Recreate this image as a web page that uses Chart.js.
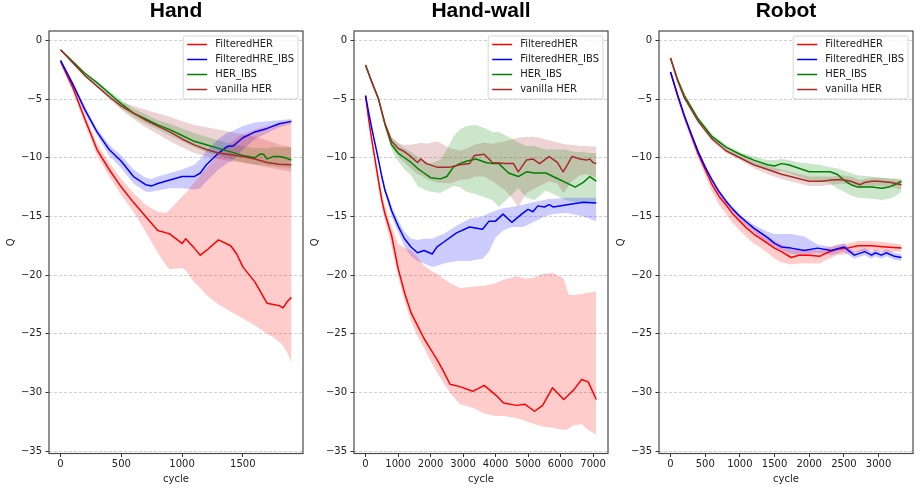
<!DOCTYPE html>
<html>
<head>
<meta charset="utf-8">
<script src="https://cdn.jsdelivr.net/npm/chart.js@4.4.0/dist/chart.umd.min.js"></script>
<style>
  body { margin: 0; background: #fff; width: 920px; height: 494px; position: relative; overflow: hidden; }
  canvas { position: absolute; top: 0; }
</style>
</head>
<body>
<canvas id="hand" width="306" height="494" style="left:0px"></canvas>
<canvas id="wall" width="305" height="494" style="left:306px"></canvas>
<canvas id="robot" width="305" height="494" style="left:611px"></canvas>
<script>
// tick labels
var yTicks = [0, -5, -10, -15, -20, -25, -30, -35];
var handXTicks = [0, 500, 1000, 1500];
var wallXTicks = [0, 1000, 2000, 3000, 4000, 5000, 6000, 7000];
var robotXTicks = [0, 500, 1000, 1500, 2000, 2500, 3000];

var handNames = ["FilteredHER", "FilteredHRE_IBS", "HER_IBS", "vanilla HER"];
var otherNames = ["FilteredHER", "FilteredHER_IBS", "HER_IBS", "vanilla HER"];

// ---- Hand ----
var handRedX = [0,100,200,300,400,500,600,700,800,870,900,1000,1030,1100,1150,1200,1300,1400,1450,1500,1600,1700,1750,1800,1830,1870,1900];
var handRedMean = [-1.8,-4.0,-6.7,-9.3,-11.0,-12.5,-13.8,-15.0,-16.2,-16.4,-16.5,-17.3,-16.9,-17.7,-18.3,-17.9,-17.0,-17.5,-18.2,-19.3,-20.6,-22.4,-22.5,-22.6,-22.8,-22.2,-21.9];
var handRedUp = [-1.6,-3.7,-6.3,-8.8,-10.4,-11.8,-13.0,-14.0,-14.6,-14.7,-14.4,-13.3,-13.0,-12.1,-11.5,-10.9,-9.7,-8.7,-8.3,-8.0,-7.6,-7.3,-7.2,-7.0,-7.0,-6.9,-6.8];
var handRedLo = [-2.0,-4.3,-7.1,-9.8,-11.6,-13.2,-14.6,-16.3,-18.1,-19.2,-19.5,-19.4,-19.6,-20.6,-21.1,-21.7,-22.5,-23.1,-23.4,-23.7,-24.3,-25.0,-25.3,-25.7,-26.0,-26.7,-27.5];

var handBlueX = [0,100,200,300,400,500,600,700,750,800,900,1000,1100,1150,1200,1300,1370,1420,1500,1600,1700,1800,1900];
var handBlueMean = [-1.7,-3.7,-5.9,-7.8,-9.3,-10.3,-11.6,-12.3,-12.4,-12.2,-11.9,-11.6,-11.6,-11.3,-10.6,-9.6,-9.05,-9.0,-8.3,-7.8,-7.5,-7.1,-6.9];
var handBlueUp = [-1.6,-3.5,-5.6,-7.5,-8.9,-9.8,-11.0,-11.7,-11.8,-11.6,-11.3,-11.0,-10.6,-10.1,-9.4,-8.4,-7.9,-7.7,-7.3,-7.0,-6.9,-6.8,-6.7];
var handBlueLo = [-1.8,-3.9,-6.2,-8.1,-9.8,-10.9,-12.2,-12.9,-12.9,-12.8,-12.6,-12.6,-12.7,-12.6,-12.0,-11.0,-10.5,-10.2,-9.3,-8.4,-7.9,-7.4,-7.1];

var handGreenX = [0,100,200,300,400,500,600,700,800,900,1000,1100,1200,1300,1400,1500,1600,1640,1670,1700,1750,1800,1850,1900];
var handGreenMean = [-0.8,-1.8,-2.8,-3.6,-4.5,-5.4,-6.2,-6.7,-7.2,-7.6,-8.1,-8.6,-8.9,-9.2,-9.5,-9.8,-10.0,-9.7,-9.7,-10.1,-9.9,-9.9,-10.0,-10.2];
var handGreenUp = [-0.75,-1.7,-2.7,-3.5,-4.3,-5.1,-5.8,-6.3,-6.8,-7.1,-7.5,-7.9,-8.2,-8.5,-8.8,-9.0,-9.2,-9.2,-9.2,-9.2,-9.1,-9.1,-9.1,-9.1];
var handGreenLo = [-0.85,-1.9,-3.0,-3.8,-4.8,-5.8,-6.5,-7.1,-7.6,-8.1,-8.6,-9.1,-9.5,-9.8,-10.1,-10.4,-10.6,-10.6,-10.6,-10.7,-10.7,-10.8,-10.8,-10.9];

var handBrownX = [0,100,200,300,400,500,600,700,800,900,1000,1100,1200,1300,1400,1500,1600,1700,1800,1900];
var handBrownMean = [-0.8,-1.9,-3.0,-3.9,-4.8,-5.6,-6.2,-6.8,-7.3,-7.8,-8.4,-8.9,-9.3,-9.6,-9.75,-9.9,-10.1,-10.4,-10.55,-10.6];
var handBrownUp = [-0.75,-1.8,-2.9,-3.8,-4.6,-5.2,-5.6,-5.9,-6.2,-6.5,-6.9,-7.2,-7.4,-7.6,-7.8,-8.0,-8.2,-8.5,-8.9,-9.1];
var handBrownLo = [-0.85,-2.0,-3.1,-4.0,-5.0,-5.9,-6.7,-7.4,-8.0,-8.6,-9.1,-9.6,-9.9,-10.1,-10.3,-10.4,-10.6,-10.8,-11.0,-11.2];

// ---- Hand-wall ----
var wallRedX = [0,100,200,300,400,500,600,800,1000,1200,1400,1600,1800,2000,2200,2400,2600,2900,3300,3650,4000,4250,4650,4900,5200,5450,5750,6100,6250,6400,6650,6850,7100];
var wallRedMean = [-4.7,-6.8,-8.6,-10.3,-12.0,-13.6,-14.8,-16.6,-19.4,-21.5,-23.2,-24.3,-25.4,-26.3,-27.2,-28.2,-29.3,-29.5,-29.9,-29.4,-30.2,-30.9,-31.1,-31.0,-31.6,-31.1,-29.6,-30.6,-30.2,-29.8,-28.9,-29.1,-30.6];
var wallRedUp = [-4.6,-6.6,-8.3,-9.9,-11.5,-13.0,-14.2,-15.9,-17.3,-17.7,-17.9,-18.5,-19.2,-19.6,-19.9,-20.3,-20.7,-21.1,-21.0,-20.9,-20.7,-20.4,-20.1,-20.3,-20.2,-19.9,-19.8,-20.3,-21.7,-21.7,-21.6,-21.5,-21.4];
var wallRedLo = [-4.8,-7.0,-8.9,-10.7,-12.5,-14.1,-15.4,-17.5,-20.1,-22.2,-23.9,-25.2,-26.2,-27.3,-28.3,-29.2,-30.0,-31.0,-31.3,-31.8,-32.0,-32.0,-32.2,-32.4,-32.7,-32.9,-33.0,-33.2,-33.1,-32.8,-32.7,-33.2,-33.6];

var wallBlueX = [0,100,200,300,400,500,600,700,800,1000,1200,1400,1600,1800,2050,2200,2400,2800,3200,3600,3800,4000,4230,4500,4850,5000,5150,5300,5500,5650,5780,6200,6700,7100];
var wallBlueMean = [-4.7,-6.2,-7.6,-8.9,-10.2,-11.6,-12.8,-13.6,-14.5,-15.8,-16.9,-17.6,-18.1,-17.9,-18.2,-17.6,-17.2,-16.4,-15.9,-16.1,-15.4,-15.4,-14.8,-15.5,-14.7,-14.4,-14.6,-14.1,-14.2,-14.0,-14.2,-14.0,-13.8,-13.85];
var wallBlueUp = [-4.6,-6.0,-7.4,-8.7,-10.0,-11.3,-12.5,-13.3,-14.1,-15.3,-16.3,-16.9,-17.0,-16.9,-16.9,-16.7,-16.5,-15.8,-15.2,-15.0,-14.7,-14.5,-14.3,-14.2,-14.0,-13.9,-13.8,-13.7,-13.6,-13.5,-13.5,-13.4,-13.4,-13.4];
var wallBlueLo = [-4.8,-6.4,-7.8,-9.1,-10.4,-11.9,-13.1,-14.0,-15.0,-16.3,-17.6,-18.4,-18.8,-19.0,-19.3,-19.2,-19.0,-18.8,-18.8,-18.6,-18.0,-16.8,-16.2,-15.9,-15.9,-15.7,-15.5,-15.3,-15.0,-14.9,-14.8,-14.7,-15.0,-15.4];

var wallGreenX = [0,200,400,600,800,1000,1200,1400,1600,1800,2000,2300,2500,2700,2900,3100,3400,3700,3900,4100,4400,4700,4950,5200,5550,5850,6150,6450,6700,6900,7100];
var wallGreenMean = [-2.1,-3.6,-5.0,-7.2,-8.9,-9.6,-10.0,-10.4,-10.9,-11.3,-11.7,-11.8,-11.6,-10.8,-10.5,-10.3,-10.1,-10.4,-10.5,-10.5,-11.3,-11.6,-11.2,-11.3,-11.3,-11.7,-12.1,-12.5,-12.1,-11.6,-12.0];
var wallGreenUp = [-2.0,-3.5,-4.9,-7.0,-8.2,-8.8,-9.2,-9.5,-9.9,-10.3,-10.5,-10.2,-9.3,-8.2,-7.6,-7.3,-7.2,-7.5,-7.8,-7.8,-8.2,-8.7,-9.0,-9.0,-9.3,-9.3,-9.3,-9.5,-9.5,-9.6,-9.6];
var wallGreenLo = [-2.2,-3.7,-5.1,-7.4,-9.3,-10.3,-11.0,-11.5,-12.4,-12.7,-12.9,-13.0,-12.7,-12.4,-12.5,-12.9,-13.1,-13.4,-13.6,-14.2,-13.4,-12.6,-13.4,-13.6,-12.8,-13.2,-13.6,-13.8,-13.8,-13.9,-13.9];

var wallBrownX = [0,200,400,600,800,1000,1150,1350,1600,1700,1870,2200,2600,2900,3200,3350,3650,3900,4300,4550,4700,4950,5150,5350,5650,5900,6080,6230,6350,6600,6800,6900,7000,7100];
var wallBrownMean = [-2.1,-3.6,-5.0,-7.1,-8.6,-9.2,-9.4,-9.8,-10.4,-10.1,-10.5,-10.8,-10.8,-10.6,-10.5,-9.8,-9.7,-10.4,-10.5,-10.5,-11.2,-10.2,-10.1,-10.5,-9.9,-10.4,-11.2,-10.5,-9.9,-10.1,-10.2,-10.1,-10.4,-10.5];
var wallBrownUp = [-2.0,-3.5,-4.9,-6.9,-8.3,-8.7,-8.9,-8.9,-8.8,-8.7,-8.8,-8.6,-9.2,-9.4,-9.1,-8.9,-8.7,-8.8,-8.6,-8.4,-8.3,-8.2,-8.2,-8.3,-8.5,-8.7,-8.8,-8.9,-8.9,-9.0,-9.0,-9.05,-9.05,-9.05];
var wallBrownLo = [-2.2,-3.7,-5.1,-7.3,-9.0,-9.8,-10.3,-10.8,-11.4,-11.5,-11.8,-12.1,-12.2,-11.9,-11.8,-11.6,-11.6,-12.0,-12.8,-13.6,-14.2,-13.0,-12.7,-12.4,-12.0,-12.2,-13.0,-12.5,-12.0,-11.5,-11.4,-11.5,-11.6,-11.7];

// ---- Robot ----
var robotRedX = [0,100,200,300,400,500,600,700,800,900,1000,1100,1200,1300,1400,1500,1600,1740,1850,2000,2150,2250,2400,2550,2700,2900,3100,3330];
var robotRedMean = [-2.7,-4.7,-6.5,-8.1,-9.7,-11.0,-12.3,-13.3,-14.0,-14.8,-15.4,-16.0,-16.5,-16.9,-17.3,-17.7,-18.0,-18.5,-18.3,-18.3,-18.4,-18.1,-17.8,-17.7,-17.5,-17.5,-17.6,-17.7];
var robotRedUp = [-2.6,-4.6,-6.4,-7.9,-9.4,-10.7,-11.9,-12.9,-13.6,-14.3,-14.9,-15.5,-15.9,-16.3,-16.7,-17.1,-17.4,-17.8,-17.8,-17.8,-17.9,-17.7,-17.4,-17.3,-17.1,-17.1,-17.2,-17.4];
var robotRedLo = [-2.8,-4.9,-6.8,-8.5,-10.1,-11.5,-12.9,-14.0,-14.8,-15.6,-16.2,-16.8,-17.3,-17.7,-18.1,-18.6,-18.9,-19.1,-19.0,-19.0,-19.0,-18.7,-18.3,-18.2,-18.0,-17.9,-18.0,-18.0];

var robotBlueX = [0,100,200,300,400,500,600,700,800,900,1000,1100,1200,1300,1400,1500,1600,1740,1930,2120,2320,2500,2650,2800,2900,2950,3040,3110,3230,3330];
var robotBlueMean = [-2.7,-4.6,-6.4,-8.0,-9.5,-10.8,-11.9,-12.9,-13.7,-14.4,-15.0,-15.5,-16.0,-16.4,-16.8,-17.3,-17.6,-17.7,-17.9,-17.7,-17.9,-17.6,-18.3,-18.0,-18.3,-18.1,-18.3,-18.1,-18.4,-18.5];
var robotBlueUp = [-2.6,-4.5,-6.3,-7.8,-9.3,-10.6,-11.7,-12.7,-13.5,-14.2,-14.8,-15.3,-15.7,-16.0,-16.3,-16.5,-16.5,-16.5,-16.7,-17.4,-17.6,-17.3,-18.0,-17.7,-18.0,-17.8,-18.0,-17.8,-18.1,-18.2];
var robotBlueLo = [-2.8,-4.7,-6.5,-8.2,-9.7,-11.0,-12.1,-13.1,-13.9,-14.6,-15.2,-15.8,-16.3,-16.8,-17.3,-17.6,-17.9,-18.2,-18.3,-18.1,-18.3,-18.0,-18.6,-18.3,-18.6,-18.4,-18.6,-18.4,-18.7,-18.8];

var robotGreenX = [0,100,200,400,600,800,1000,1200,1400,1500,1600,1700,1850,2000,2150,2300,2400,2500,2600,2700,2900,3050,3150,3230,3330];
var robotGreenMean = [-1.5,-3.3,-4.7,-6.7,-8.2,-9.1,-9.7,-10.2,-10.6,-10.7,-10.5,-10.6,-10.9,-11.2,-11.2,-11.2,-11.4,-11.9,-12.3,-12.5,-12.5,-12.6,-12.5,-12.3,-12.0];
var robotGreenUp = [-1.45,-3.2,-4.6,-6.6,-8.0,-8.9,-9.5,-9.9,-10.2,-10.2,-10.1,-10.2,-10.4,-10.5,-10.6,-10.8,-10.9,-11.1,-11.3,-11.5,-11.6,-11.7,-11.75,-11.75,-11.8];
var robotGreenLo = [-1.55,-3.4,-4.9,-6.9,-8.4,-9.3,-9.9,-10.5,-11.0,-11.2,-11.1,-11.3,-11.6,-11.9,-12.0,-12.2,-12.6,-12.9,-13.2,-13.4,-13.5,-13.6,-13.5,-13.3,-12.9];

var robotBrownX = [0,100,200,400,600,800,1000,1200,1400,1600,1800,2000,2170,2320,2460,2600,2730,2800,2900,3000,3180,3330];
var robotBrownMean = [-1.5,-3.4,-4.9,-6.9,-8.4,-9.4,-10.0,-10.6,-11.0,-11.4,-11.7,-12.0,-12.0,-11.9,-11.85,-12.0,-12.3,-12.1,-12.0,-12.0,-12.1,-12.3];
var robotBrownUp = [-1.45,-3.3,-4.8,-6.75,-8.2,-9.2,-9.8,-10.3,-10.7,-11.0,-11.3,-11.6,-11.6,-11.6,-11.5,-11.6,-11.9,-11.8,-11.7,-11.7,-11.8,-11.9];
var robotBrownLo = [-1.55,-3.5,-5.0,-7.05,-8.6,-9.6,-10.2,-10.9,-11.4,-11.8,-12.1,-12.4,-12.4,-12.3,-12.2,-12.3,-12.6,-12.5,-12.4,-12.4,-12.5,-12.7];

var lineColors = ["#ff0000", "#0000ff", "#008000", "#a52a2a"];
var bandColors = ["rgba(255,0,0,0.2)", "rgba(0,0,255,0.2)", "rgba(0,128,0,0.2)", "rgba(165,42,42,0.2)"];

Chart.defaults.font.family = "'DejaVu Sans', sans-serif";
Chart.defaults.color = "#222";

function pts(xs, ys) {
  return xs.map(function(x, i) { return { x: x, y: ys[i] }; });
}

function minus(v) {
  return v < 0 ? "\u2212" + (-v) : "" + v;
}

// frame round the axes + legend in the upper right, like matplotlib
function framePlugin(names) {
  return {
    id: "frameLegend",
    afterDraw: function(chart) {
      var ctx = chart.ctx, a = chart.chartArea;
      ctx.save();
      ctx.strokeStyle = "#4a4a4a";
      ctx.lineWidth = 1.2;
      ctx.strokeRect(a.left, a.top, a.right - a.left, a.bottom - a.top);

      ctx.font = "10px 'DejaVu Sans'";
      var tw = 0;
      names.forEach(function(n) { tw = Math.max(tw, ctx.measureText(n).width); });
      var w = 4 + 20 + 8 + tw + 4, h = 63;
      var bx = a.right - 5 - w, by = a.top + 5;
      ctx.beginPath();
      ctx.roundRect(bx, by, w, h, 2);
      ctx.fillStyle = "rgba(255,255,255,0.8)";
      ctx.fill();
      ctx.strokeStyle = "rgba(204,204,204,0.8)";
      ctx.lineWidth = 1;
      ctx.stroke();
      ctx.textBaseline = "middle";
      names.forEach(function(n, i) {
        var y = by + 8.5 + 15 * i;
        ctx.beginPath();
        ctx.moveTo(bx + 4, y);
        ctx.lineTo(bx + 24, y);
        ctx.strokeStyle = lineColors[i];
        ctx.lineWidth = 1.5;
        ctx.stroke();
        ctx.fillStyle = "#222";
        ctx.fillText(n, bx + 32, y);
      });
      ctx.restore();
    }
  };
}

function makeChart(id, title, xMin, xMax, xTicks, yWidth, qPad, names, series) {
  var datasets = [];
  series.forEach(function(s, i) {
    var base = datasets.length;
    datasets.push({ data: pts(s[0], s[2]), borderColor: "rgba(0,0,0,0)", borderWidth: 0, pointRadius: 0,
                    fill: base + 1, backgroundColor: bandColors[i], order: 10 });
    datasets.push({ data: pts(s[0], s[3]), borderColor: "rgba(0,0,0,0)", borderWidth: 0, pointRadius: 0,
                    fill: false, order: 10 });
  });
  series.forEach(function(s, i) {
    datasets.push({ label: names[i], data: pts(s[0], s[1]), borderColor: lineColors[i], borderWidth: 1.5,
                    borderJoinStyle: "round", pointRadius: 0, fill: false, order: 4 - i });
  });

  return new Chart(document.getElementById(id), {
    type: "line",
    data: { datasets: datasets },
    options: {
      responsive: false,
      animation: false,
      events: [],
      layout: { padding: { right: 3 } },
      plugins: {
        legend: { display: false },
        tooltip: { enabled: false },
        title: {
          display: true, text: title, fullSize: false, color: "#000",
          font: { family: "'Liberation Sans', sans-serif", size: 21, weight: "bold", lineHeight: 1 },
          padding: { top: 0.5, bottom: 9.5 }
        }
      },
      scales: {
        x: {
          type: "linear", min: xMin, max: xMax,
          afterBuildTicks: function(s) { s.ticks = xTicks.map(function(v) { return { value: v }; }); },
          afterFit: function(s) { s.height = 40.5; },
          grid: { display: true, drawOnChartArea: false, tickLength: 3.5, tickColor: "#333", lineWidth: 1 },
          border: { display: false },
          ticks: { font: { size: 10 }, color: "#222", padding: 1.5, maxRotation: 0, callback: minus },
          title: { display: true, text: "cycle", font: { size: 10 }, color: "#222", padding: { top: 0, bottom: 9 } }
        },
        y: {
          min: -35.2, max: 0.8,
          afterBuildTicks: function(s) { s.ticks = yTicks.map(function(v) { return { value: v }; }); },
          afterFit: function(s) { s.width = yWidth; },
          grid: { color: "#c4c4c4", lineWidth: 0.8, tickLength: 3.5, tickColor: "#333", tickWidth: 1, tickBorderDash: [] },
          border: { display: false, dash: [3, 2] },
          ticks: { font: { size: 10 }, color: "#222", padding: 3.5, callback: minus },
          title: { display: true, text: "Q", font: { size: 10 }, color: "#222", padding: { top: qPad, bottom: 0 } }
        }
      }
    },
    plugins: [framePlugin(names)]
  });
}

makeChart("hand", "Hand", -95, 1995, handXTicks, 49, 5.7, handNames, [
  [handRedX, handRedMean, handRedUp, handRedLo],
  [handBlueX, handBlueMean, handBlueUp, handBlueLo],
  [handGreenX, handGreenMean, handGreenUp, handGreenLo],
  [handBrownX, handBrownMean, handBrownUp, handBrownLo]
]);

makeChart("wall", "Hand-wall", -355, 7460, wallXTicks, 48, 3, otherNames, [
  [wallRedX, wallRedMean, wallRedUp, wallRedLo],
  [wallBlueX, wallBlueMean, wallBlueUp, wallBlueLo],
  [wallGreenX, wallGreenMean, wallGreenUp, wallGreenLo],
  [wallBrownX, wallBrownMean, wallBrownUp, wallBrownLo]
]);

makeChart("robot", "Robot", -166, 3496, robotXTicks, 48, 4.7, otherNames, [
  [robotRedX, robotRedMean, robotRedUp, robotRedLo],
  [robotBlueX, robotBlueMean, robotBlueUp, robotBlueLo],
  [robotGreenX, robotGreenMean, robotGreenUp, robotGreenLo],
  [robotBrownX, robotBrownMean, robotBrownUp, robotBrownLo]
]);
</script>
</body>
</html>
